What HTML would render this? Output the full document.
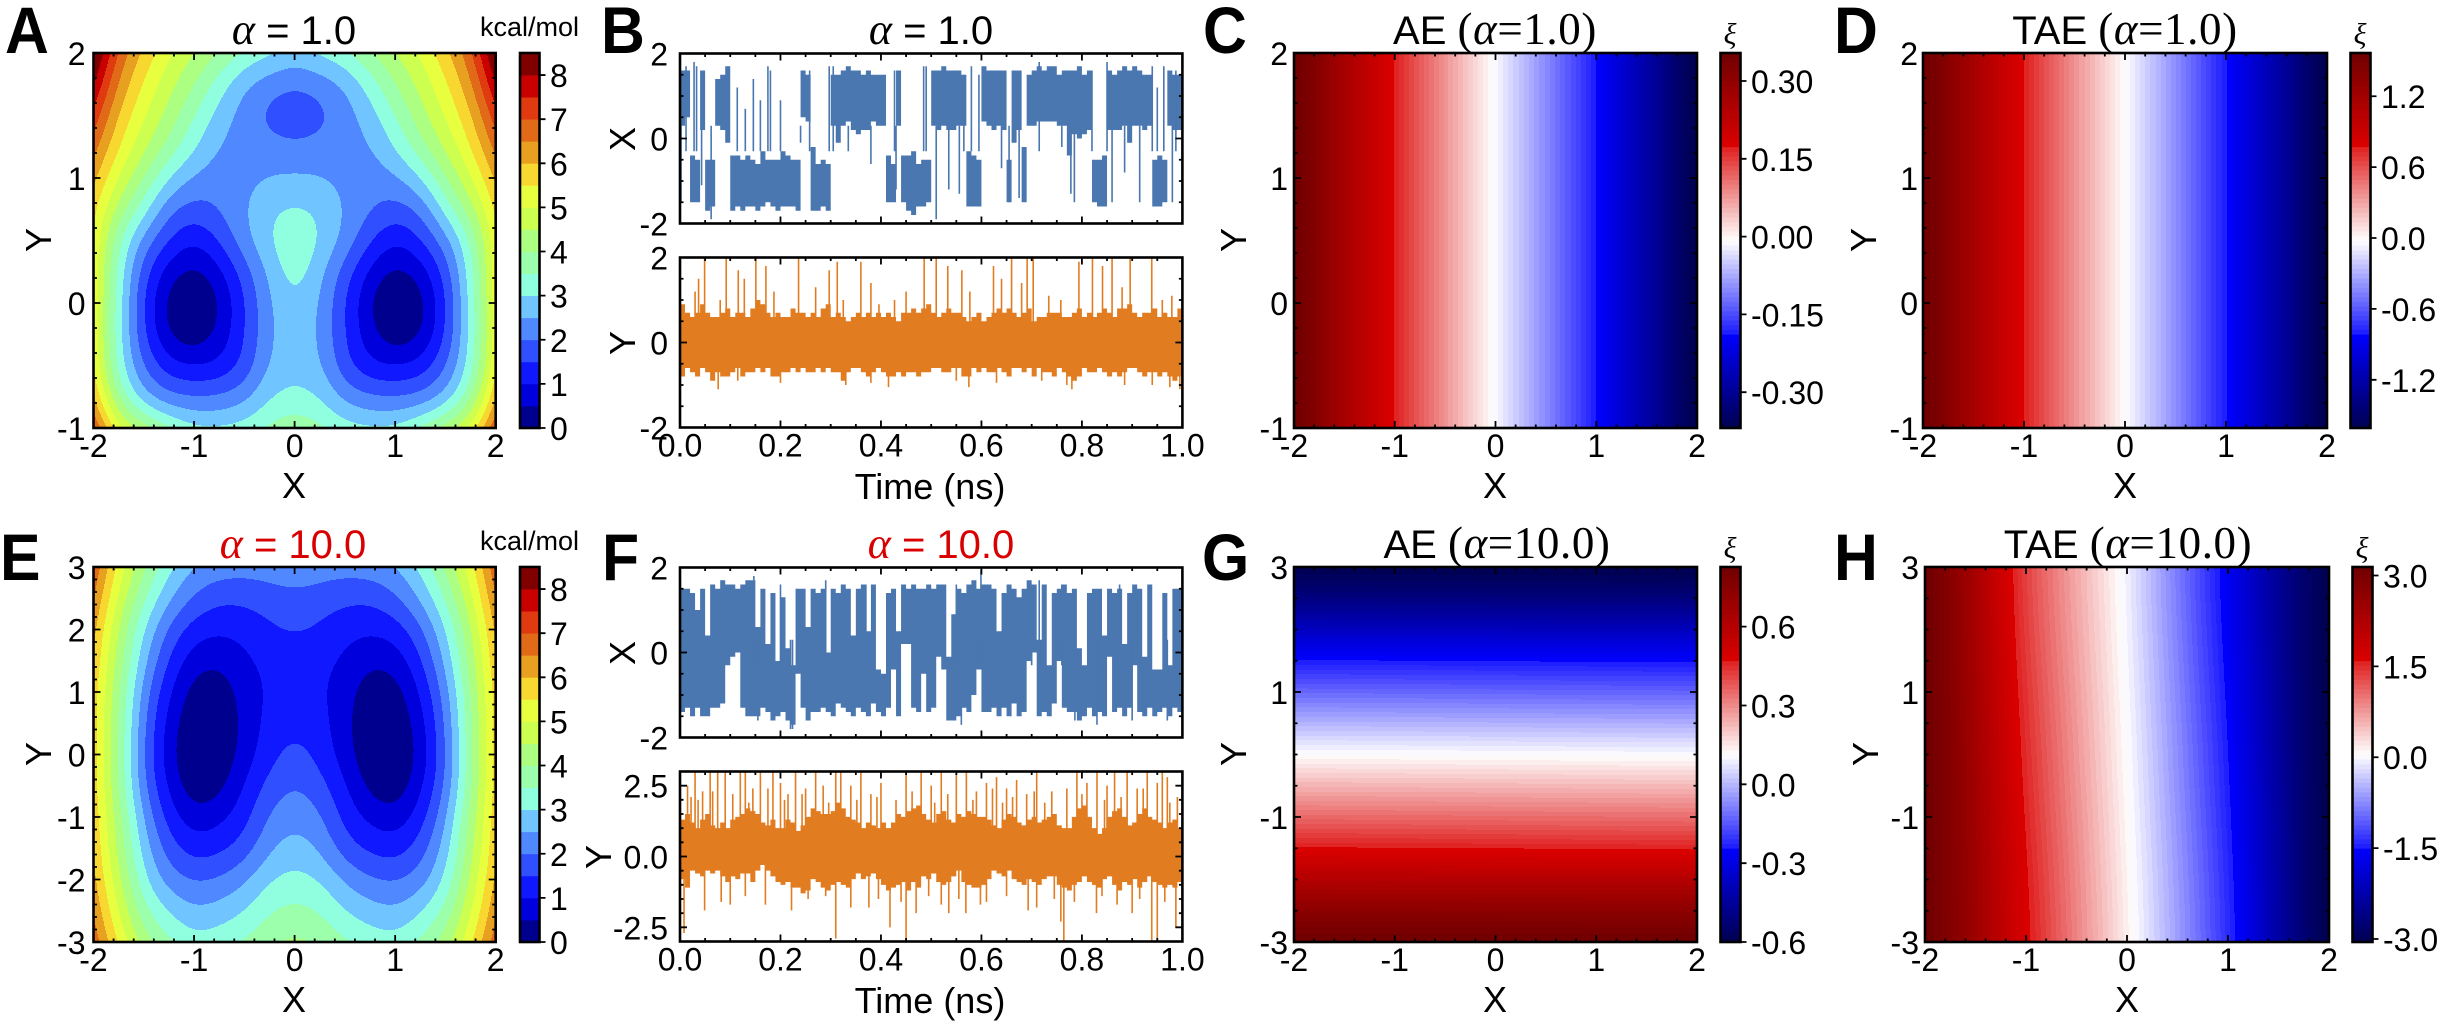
<!DOCTYPE html>
<html lang="en">
<head>
<meta charset="utf-8">
<title>Potential energy surfaces and learned coordinates</title>
<style>
html,body{margin:0;padding:0;background:#fff}
svg{display:block}
text{font-family:"Liberation Sans",sans-serif;fill:#000}
.serif{font-family:"Liberation Serif",serif;font-size:45px;letter-spacing:.6px}
.it{font-family:"Liberation Serif",serif;font-style:italic}
.letter{font-size:66px;font-weight:bold}
.title{font-size:40px}
.axis{font-size:36px}
</style>
</head>
<body>
<svg id="fig" xmlns="http://www.w3.org/2000/svg" width="2443" height="1028" viewBox="0 0 2443 1028">
<rect width="2443" height="1028" fill="#fff"/>
<g id="marks"></g>
<g>
<text class="letter" transform="translate(5 53) scale(.92 1)">A</text>
<text class="letter" transform="translate(601 53) scale(.92 1)">B</text>
<text class="letter" transform="translate(1203 53) scale(.92 1)">C</text>
<text class="letter" transform="translate(1834 53) scale(.92 1)">D</text>
<text class="letter" transform="translate(0 580) scale(.92 1)">E</text>
<text class="letter" transform="translate(602 580) scale(.92 1)">F</text>
<text class="letter" transform="translate(1202 580) scale(.92 1)">G</text>
<text class="letter" transform="translate(1834 580) scale(.92 1)">H</text>
</g>
<g>
<text class="title" x="294" y="44" text-anchor="middle"><tspan class="it" font-size="44">α</tspan> = 1.0</text>
<text class="title" x="931" y="44" text-anchor="middle"><tspan class="it" font-size="44">α</tspan> = 1.0</text>
<text class="title" x="1495" y="44" text-anchor="middle">AE <tspan class="serif">(<tspan class="it">α</tspan>=1.0)</tspan></text>
<text class="title" x="2125" y="44" text-anchor="middle">TAE <tspan class="serif">(<tspan class="it">α</tspan>=1.0)</tspan></text>
<text class="title" x="293" y="558" text-anchor="middle" style="fill:#d80000"><tspan class="it" font-size="44" style="fill:#d80000">α</tspan> = 10.0</text>
<text class="title" x="941" y="558" text-anchor="middle" style="fill:#d80000"><tspan class="it" font-size="44" style="fill:#d80000">α</tspan> = 10.0</text>
<text class="title" x="1497" y="558" text-anchor="middle">AE <tspan class="serif">(<tspan class="it">α</tspan>=10.0)</tspan></text>
<text class="title" x="2128" y="558" text-anchor="middle">TAE <tspan class="serif">(<tspan class="it">α</tspan>=10.0)</tspan></text>
</g>
<g>
<text x="529.5" y="36" font-size="27" text-anchor="middle">kcal/mol</text>
<text x="529.5" y="550" font-size="27" text-anchor="middle">kcal/mol</text>
<text class="it" x="1730" y="44" font-size="30" text-anchor="middle">ξ</text>
<text class="it" x="2360" y="44" font-size="30" text-anchor="middle">ξ</text>
<text class="it" x="1730" y="558" font-size="30" text-anchor="middle">ξ</text>
<text class="it" x="2362" y="558" font-size="30" text-anchor="middle">ξ</text>
</g>
<g>
<text class="axis" x="294" y="498" text-anchor="middle">X</text>
<text class="axis" x="1495" y="498" text-anchor="middle">X</text>
<text class="axis" x="2125" y="498" text-anchor="middle">X</text>
<text class="axis" x="294" y="1012" text-anchor="middle">X</text>
<text class="axis" x="1495" y="1012" text-anchor="middle">X</text>
<text class="axis" x="2127" y="1012" text-anchor="middle">X</text>
<text class="axis" x="930" y="499" text-anchor="middle">Time (ns)</text>
<text class="axis" x="930" y="1013" text-anchor="middle">Time (ns)</text>
<text class="axis" text-anchor="middle" transform="translate(51 240) rotate(-90)">Y</text>
<text class="axis" text-anchor="middle" transform="translate(1246 240) rotate(-90)">Y</text>
<text class="axis" text-anchor="middle" transform="translate(1876 240) rotate(-90)">Y</text>
<text class="axis" text-anchor="middle" transform="translate(51 754) rotate(-90)">Y</text>
<text class="axis" text-anchor="middle" transform="translate(1246 754) rotate(-90)">Y</text>
<text class="axis" text-anchor="middle" transform="translate(1878 754) rotate(-90)">Y</text>
<text class="axis" text-anchor="middle" transform="translate(635 139) rotate(-90)">X</text>
<text class="axis" text-anchor="middle" transform="translate(635 343) rotate(-90)">Y</text>
<text class="axis" text-anchor="middle" transform="translate(635 653) rotate(-90)">X</text>
<text class="axis" text-anchor="middle" transform="translate(611 857) rotate(-90)">Y</text>
</g>
</svg>
<script>
/* ---------- chart data ---------- */
var energyBandColors = ['#00008f','#0000dc','#1018ff','#3050ff','#5088ff','#70c4ff','#90ffe0','#9cffac','#acff80','#ccff50','#e8ff40','#f8d830','#e8a020','#e06a18','#e03a10','#c80000','#800000'];
var energyBandStep = [0.5];
var energyTickValues = [0,1,2,3,4,5,6,7,8];
var energyTickLabels = ['0','1','2','3','4','5','6','7','8'];

/* half-grids: columns |X| = 0, 0.25 ... 2; rows from top of the plot to bottom */
var energyGridA = [
[2.75,3.05,3.4,3.95,4.5,5.05,5.85,6.8,8.7],
[2.05,2.2,2.5,3.25,4.0,4.65,5.4,6.35,8.0],
[1.45,1.8,2.25,2.75,3.5,4.3,5.05,5.9,7.3],
[2.15,2.2,2.25,2.45,3.05,3.85,4.6,5.5,6.7],
[2.55,2.52,2.35,2.2,2.4,2.95,4.0,4.95,6.1],
[3.1,2.95,2.47,2.05,1.75,2.05,3.2,4.3,5.6],
[3.55,3.0,2.37,1.55,.95,1.45,2.25,3.5,5.4],
[3.35,2.65,1.75,.82,.3,.65,1.65,3.25,5.3],
[3.0,2.5,1.47,.45,-.25,.22,1.4,3.15,5.3],
[2.9,2.45,1.5,.6,.08,.35,1.5,3.1,5.3],
[2.9,2.6,1.6,1.05,.93,1.15,1.9,3.15,5.4],
[3.1,3.0,2.3,2.05,2.0,2.05,2.55,3.75,5.9],
[3.9,3.6,3.2,3.05,3.05,3.55,4.2,5.0,7.0]];
var energyGridE = [
[2.35,2.25,2.2,2.25,2.45,3.1,4.05,5.25,6.9],
[1.85,1.75,1.6,1.58,1.9,2.55,3.55,4.85,6.5],
[1.6,1.42,1.15,1.05,1.2,1.85,2.95,4.45,6.1],
[1.15,1.15,.9,.58,.65,1.4,2.6,4.25,5.9],
[1.1,1.1,.75,.12,.22,1.0,2.2,4.05,5.7],
[1.4,1.2,.66,.0,.0,.75,2.0,3.95,5.7],
[1.7,1.35,.72,.05,-.08,.6,1.9,3.9,5.7],
[2.05,1.7,1.05,.28,.05,.85,2.0,3.95,5.7],
[2.4,2.1,1.3,.85,.65,1.2,2.4,4.2,5.8],
[2.75,2.45,1.7,1.35,1.2,1.7,2.7,4.35,5.9],
[3.2,3.0,2.4,2.05,1.93,2.2,3.05,4.6,6.1],
[3.65,3.5,3.0,2.7,2.55,2.95,3.6,4.95,6.4],
[4.15,3.9,3.55,3.3,3.15,3.55,4.2,5.4,6.8]];

/* AE / TAE fields: rows top to bottom, columns left to right */
var aeGridC = [[0.354,0.263,0.172,0.08,-0.012,-0.10,-0.188,-0.28,-0.369]];
var taeGridD = [[1.566,1.17,0.77,0.375,-0.02,-0.415,-0.81,-1.21,-1.608]];
var aeGridG = [[-0.596,-0.604],[-0.241,-0.249],[0.114,0.106],[0.474,0.466],[0.827,0.827]];
var taeGridH = [[3.14,1.37,-0.06,-1.63,-3.05],[3.14,1.52,0.045,-1.5,-3.05],[3.14,1.66,0.15,-1.385,-3.05]];
var cbarRangeC = [-0.369,0.354];
var cbarRangeD = [-1.608,1.566];
var cbarRangeG = [-0.6,0.827];
var cbarRangeH = [-3.05,3.14];
var cbarTicksC = [0.30,0.15,0,-0.15,-0.30];
var cbarLabelsC = ['0.30','0.15','0.00','-0.15','-0.30'];
var cbarTicksD = [1.2,0.6,0,-0.6,-1.2];
var cbarLabelsD = ['1.2','0.6','0.0','-0.6','-1.2'];
var cbarTicksG = [0.6,0.3,0,-0.3,-0.6];
var cbarLabelsG = ['0.6','0.3','0.0','-0.3','-0.6'];
var cbarTicksH = [3,1.5,0,-1.5,-3];
var cbarLabelsH = ['3.0','1.5','0.0','-1.5','-3.0'];

/* trajectories: per-0.01 ns envelopes plus single excursions */
var traceBXHigh = [1.6,1.6,-.4,-.5,1.6,-.5,-.5,1.4,1.5,1.7,-.4,-.4,-.5,-.4,-.5,-.6,-.3,-.5,-.5,-.5,-.3,-.4,-.5,-.5,1.6,1.5,-.2,-.6,-.5,-.6,1.5,1.5,1.6,1.7,1.6,1.6,1.5,1.6,1.5,1.5,1.5,-.4,-.6,1.6,-.4,-.4,-.3,-.6,-.5,-.5,1.6,1.6,1.7,1.6,1.6,1.6,1.5,-.3,-.4,-.5,1.7,1.6,1.6,1.6,1.6,-.5,1.6,1.6,-.2,1.5,1.6,1.7,1.6,1.7,1.7,1.5,1.6,1.6,1.6,1.7,1.5,1.6,-.5,-.5,-.4,1.6,1.5,1.6,1.7,1.6,1.7,1.6,1.5,1.5,-.5,-.4,-.5,1.6,1.5,1.5];
var traceBXLow = [.3,.5,-1.5,-1.5,.2,-1.7,-1.6,.3,.2,-.1,-1.7,-1.6,-1.7,-1.6,-1.6,-1.7,-1.6,-1.5,-1.6,-1.7,-1.6,-1.6,-1.6,-1.7,.5,.4,-1.7,-1.7,-1.6,-1.7,.3,-.1,.3,.4,.2,.1,.2,.2,.4,.3,.3,-1.5,-1.5,.3,-1.5,-1.7,-1.8,-1.6,-1.6,-1.5,.3,.2,.3,.2,.2,.3,.3,-1.6,-1.6,-1.6,.4,.3,.2,.3,.2,-1.5,-.1,.2,-1.5,.3,.3,.4,.4,.4,.4,.3,.3,-.4,.1,.0,.1,.2,-1.5,-1.6,-1.6,.2,.2,.2,.3,-.1,.3,.3,.2,.3,-1.6,-1.6,-1.5,.3,.2,.2];
var spikeBXTimes = [.002,.012,.028,.033,.043,.062,.114,.13,.146,.16,.175,.18,.2,.24,.258,.297,.305,.335,.38,.427,.43,.49,.485,.51,.535,.556,.565,.58,.595,.64,.655,.675,.715,.76,.778,.785,.82,.85,.86,.885,.915,.94,.95,.963,.98,.987];
var spikeBXEnds = [-1.5,1.7,1.8,1.7,-1.1,-1.9,1.2,.7,1.4,.9,1.7,1.6,.9,-.1,1.6,1.7,1.7,-.3,-.6,1.6,-1.2,1.7,1.7,-1.9,-1.2,-1.3,1.5,1.7,1.5,-.7,-1.5,-1.4,1.8,-.2,-1.3,-1.5,1.6,1.8,-1.5,-.8,-1.5,1.7,1.2,1.7,-1.5,1.6];
var traceBYHigh = [.9,.7,.6,.7,.9,.7,.6,.6,.7,.8,.6,.7,.7,.6,.8,1.0,.9,.7,.6,.7,.6,.6,.8,.7,.7,.6,.7,.6,.8,.9,.6,.7,.6,.5,.6,.7,.6,.7,.6,.7,.6,.7,.6,.5,.7,.7,.8,.7,.8,.9,.7,.6,.7,.8,.7,.7,.6,.5,.6,.7,.5,.6,.7,.8,.7,.8,.7,.6,.7,.8,.5,.6,.6,.7,.7,.7,.6,.6,.7,.8,.6,.7,.6,.7,.8,.7,.6,.8,.8,.9,.7,.6,.7,.7,.8,.6,.7,.6,.6,.8];
var traceBYLow = [-.8,-.6,-.7,-.8,-.6,-.7,-.9,-.7,-.8,-.8,-.7,-.6,-.8,-.7,-.7,-.6,-.7,-.6,-.8,-.8,-.7,-.7,-.6,-.7,-.6,-.7,-.7,-.6,-.7,-.6,-.7,-.7,-.9,-.7,-.6,-.6,-.7,-.8,-.7,-.6,-.7,-.8,-.8,-.7,-.8,-.7,-.7,-.8,-.7,-.7,-.6,-.6,-.7,-.7,-.6,-.6,-.8,-.8,-.6,-.7,-.6,-.7,-.7,-.6,-.7,-.8,-.6,-.6,-.7,-.6,-.8,-.6,-.7,-.7,-.8,-.6,-.7,-.8,-.9,-.8,-.6,-.7,-.7,-.6,-.7,-.8,-.7,-.8,-.7,-.6,-.6,-.7,-.8,-.7,-.7,-.8,-.7,-.8,-.9,-.8];
var spikeBYTimes = [.037,.049,.03,.092,.08,.116,.128,.151,.171,.187,.236,.27,.297,.313,.325,.36,.38,.396,.427,.45,.486,.51,.533,.561,.577,.624,.64,.66,.68,.691,.703,.734,.758,.794,.821,.841,.86,.88,.896,.939,.96,.979,.076,.115,.2,.33,.38,.415,.55,.575,.63,.72,.77,.78,.885,.94,.975,.995];
var spikeBYEnds = [1.5,2,1.2,2,1.0,1.7,1.5,2,1.8,1.2,2,1.3,1.7,1.9,1.0,1.9,1.4,.9,1.0,1.2,2,2,1.8,1.7,1.2,1.8,1.5,2,1.4,2,2,1.1,1.0,1.9,2,1.8,2,1.3,2,2,1.0,1.1,-1.1,-.9,-.95,-1.0,-.95,-1.05,-.9,-1.05,-.95,-.9,-1.0,-1.1,-1.0,-1.0,-1.05,-1.1];
var traceFXHigh = [1.5,1.5,1.4,1.0,1.5,.4,1.6,1.5,1.7,1.6,1.6,1.5,1.6,1.7,1.7,.6,1.5,.2,1.4,-.2,1.3,.1,-.3,1.5,1.5,.6,1.5,1.4,1.5,.0,1.5,1.4,1.6,1.5,.4,1.5,1.6,.5,1.6,-.4,-.5,1.4,1.5,.5,1.6,1.5,1.6,1.5,1.5,1.6,1.5,1.6,1.6,-.1,.9,1.5,1.4,1.6,1.7,1.5,1.6,1.6,1.5,.5,1.4,1.6,1.5,1.3,1.5,1.7,1.6,.3,1.6,-.3,1.4,1.5,1.6,1.4,1.5,.1,-.3,1.4,1.5,1.5,.4,1.5,1.4,1.5,.2,1.4,1.6,1.5,-.1,1.6,-.4,-.4,1.4,-.3,1.5,1.5];
var traceFXLow = [-1.4,-1.3,-1.5,-1.3,-1.5,-1.5,-1.3,-1.3,-1.2,-.3,-.1,.0,-1.3,-1.5,-1.5,-1.5,-1.3,-1.4,-1.6,-1.5,-1.4,-1.6,-1.7,-.5,-1.3,-1.6,-1.4,-1.4,-1.3,-1.4,-1.5,-1.2,-1.3,-1.4,-1.5,-1.3,-1.4,-1.5,-1.2,-1.4,-1.5,-1.3,-.4,-1.5,.2,.2,-1.3,-1.4,-.5,-1.4,-1.3,-.1,-.4,-1.6,-1.6,-1.5,-1.3,-1.4,-1.0,-.4,-1.4,-1.4,-1.3,-1.5,-1.3,-1.5,-1.2,-1.5,-1.4,-.2,.0,-1.5,-1.4,-1.5,-1.2,-.2,-1.3,-1.4,-1.4,-1.6,-1.5,-1.3,-1.5,-1.4,-1.5,-.1,-1.4,-1.3,-1.5,-1.3,-.3,-1.4,-1.5,-1.3,-1.5,-1.4,-1.3,-1.5,-1.3,-1.4];
var spikeFXTimes = [.083,.147,.2,.224,.29,.37,.55,.599,.7,.715,.76,.786,.83,.875,.9,.97,.56,.22,.155];
var spikeFXEnds = [1.7,1.8,1.6,-1.8,1.7,1.6,1.6,1.95,1.6,1.7,1.6,-1.6,-1.7,1.6,-1.6,-1.6,-1.7,-1.8,-1.6];
var traceFYHigh = [1.3,1.5,1.2,1.0,1.3,1.5,1.1,1.0,1.2,1.0,1.3,1.4,1.5,1.7,1.6,1.5,1.2,1.1,1.3,1.0,1.0,1.3,1.2,.9,1.1,1.4,1.7,1.6,1.5,1.5,1.6,1.9,1.7,1.4,1.3,1.2,1.0,1.2,1.1,1.0,1.2,1.0,1.2,1.5,1.4,1.6,1.7,1.8,1.5,1.3,1.2,1.5,1.6,1.3,1.2,1.5,1.4,1.6,1.5,1.4,1.4,1.3,1.1,1.0,1.3,1.5,1.4,1.2,1.1,1.3,1.4,1.2,1.3,1.4,1.5,1.1,1.0,1.0,1.4,1.7,1.8,1.4,1.0,.8,1.0,1.4,1.6,1.7,1.4,1.1,1.2,1.5,1.7,1.4,1.3,1.2,1.0,1.2,1.3,1.0];
var traceFYLow = [-.8,-1.1,-.5,-.6,-.7,-.5,-.6,-.5,-.7,-.9,-.7,-.8,-.6,-.6,-.9,-.5,-.3,-.5,-.7,-.9,-1.0,-.9,-1.1,-1.1,-1.3,-1.2,-.8,-.9,-1.1,-1.2,-1.0,-.9,-1.0,-1.1,-.8,-.6,-.8,-.7,-.6,-.8,-1.0,-1.2,-1.1,-1.0,-.9,-1.2,-.9,-1.1,-.7,-.8,-.6,-.9,-1.0,-.9,-.7,-.5,-.9,-1.0,-1.1,-1.1,-1.0,-.8,-.5,-.6,-.7,-.5,-.8,-.9,-1.0,-.8,-.9,-1.0,-.8,-.7,-.7,-1.0,-1.1,-1.2,-1.0,-.9,-.7,-.9,-1.0,-1.1,-.8,-.7,-1.0,-1.2,-.9,-1.0,-.8,-1.1,-.9,-.7,-.9,-1.0,-1.1,-1.0,-1.1,-.9];
var spikeFYTimes = [.008,.049,.1,.222,.31,.376,.418,.45,.47,.535,.569,.598,.693,.764,.758,.829,.9,.939,.95,.987,.03,.06,.075,.09,.12,.13,.16,.185,.2,.23,.27,.31,.32,.36,.4,.45,.48,.52,.55,.57,.63,.67,.71,.79,.81,.83,.865,.89,.93,.96,.97,.015,.045,.105,.145,.215,.25,.34,.38,.43,.5,.59,.61,.65,.69,.74,.77,.85,.91,.95,.99,.022,.065,.137,.175,.208,.243,.285,.296,.352,.392,.462,.507,.533,.583,.622,.642,.662,.705,.726,.8,.845,.878,.922,.975,.036,.082,.13,.17,.255,.29,.34,.395,.44,.495,.52,.555,.61,.65,.71,.745,.785,.84,.87,.915,.965];
var spikeFYEnds = [-2.7,-1.9,-1.7,-1.9,-2.9,-1.8,-2.5,-3,-2.0,-2.0,-2.0,-1.7,-1.9,-3,-2.3,-2.0,-2.0,-3,-3,-2.5,3,3,3,3,3,3,3,3,2.6,3,3,3,3,3,2.6,3,3,3,3,3,2.8,2.7,3,3,2.6,3,3,3,3,3,2.8,2.5,2.3,2.2,2.4,2.2,2.4,2.5,2.2,2.0,2.5,2.3,2.6,2.4,2.2,2.3,2.4,2.5,2.4,2.6,2.1,2.1,2.3,1.9,2.4,2.0,2.2,2.5,1.9,2.0,2.1,2.3,1.9,2.2,2.0,2.4,1.9,2.1,2.3,1.9,2.2,2.0,2.1,2.4,1.9,2.0,-1.6,-1.4,-1.7,-1.5,-1.4,-1.8,-1.5,-1.6,-1.4,-1.7,-1.5,-1.6,-1.4,-1.8,-1.5,-1.6,-1.4,-1.7,-1.5,-1.6,-1.4];

/* tick values and labels */
var xTickValues = [-2,-1,0,1,2];
var xTickLabels = ['-2','-1','0','1','2'];
var yTicksTop = [2,1,0,-1];
var yLabelsTop = ['2','1','0','-1'];
var yTicksE = [3,2,1,0,-1,-2,-3];
var yLabelsE = ['3','2','1','0','-1','-2','-3'];
var yTicksG = [3,1,-1,-3];
var yLabelsG = ['3','1','-1','-3'];
var timeTickValues = [0,0.2,0.4,0.6,0.8,1];
var timeTickLabels = ['0.0','0.2','0.4','0.6','0.8','1.0'];
var traceTicksTwo = [2,0,-2];
var traceLabelsTwo = ['2','0','-2'];
var traceTicksF = [2.5,0,-2.5];
var traceLabelsF = ['2.5','0.0','-2.5'];

/* ---------- drawing ---------- */
var NS = 'http://www.w3.org/2000/svg';
var root = document.getElementById('marks');
function make(tag, attrs, parent) {
  var n = document.createElementNS(NS, tag);
  for (var k in attrs) n.setAttribute(k, attrs[k]);
  (parent || root).appendChild(n);
  return n;
}
function linear(d0, d1, r0, r1) { return function (v) { return r0 + (v - d0) / (d1 - d0) * (r1 - r0); }; }
function mirrorGrid(g) {
  return g.map(function (r) { return r.slice(1).reverse().concat(r); });
}
function cr(a, b, c, d, t) {
  return b + 0.5 * t * (c - a + t * (2 * a - 5 * b + 4 * c - d + t * (3 * (b - c) + d - a)));
}
function bs(a, b, c, d, t) {
  var s = 1 - t;
  return (s * s * s * a + (3 * t * t * t - 6 * t * t + 4) * b + (-3 * t * t * t + 3 * t * t + 3 * t + 1) * c + t * t * t * d) / 6;
}
function locate(g, u, v) {
  var nr = g.length, nc = g[0].length;
  var fu = u * (nc - 1), fv = v * (nr - 1);
  var iu = Math.min(Math.floor(fu), Math.max(nc - 2, 0)), iv = Math.min(Math.floor(fv), Math.max(nr - 2, 0));
  return { nr: nr, nc: nc, iu: iu, iv: iv, tu: fu - iu, tv: fv - iv };
}
function sampleRound(g, u, v) {
  var L = locate(g, u, v);
  function cell(r, c) {
    var R = g[r];
    if (c < 0) return 2 * R[0] - R[1];
    if (c >= L.nc) return 2 * R[L.nc - 1] - R[L.nc - 2];
    return R[c];
  }
  function row(r) {
    var val;
    if (r < 0) val = function (c) { return 2 * cell(0, c) - cell(1, c); };
    else if (r >= L.nr) val = function (c) { return 2 * cell(L.nr - 1, c) - cell(L.nr - 2, c); };
    else val = function (c) { return cell(r, c); };
    return bs(val(L.iu - 1), val(L.iu), val(L.iu + 1), val(L.iu + 2), L.tu);
  }
  return bs(row(L.iv - 1), row(L.iv), row(L.iv + 1), row(L.iv + 2), L.tv);
}
function sampleSharp(g, u, v) {
  var L = locate(g, u, v);
  function row(r) {
    var R = g[Math.max(0, Math.min(L.nr - 1, r))];
    function at(i) { return R[Math.max(0, Math.min(L.nc - 1, i))]; }
    return L.nc < 2 ? R[0] : cr(at(L.iu - 1), at(L.iu), at(L.iu + 1), at(L.iu + 2), L.tu);
  }
  return L.nr < 2 ? row(0) : cr(row(L.iv - 1), row(L.iv), row(L.iv + 1), row(L.iv + 2), L.tv);
}
function drawField(g, box, sampler, indexOf, colorOf, n) {
  var parts = [];
  var i;
  for (i = 0; i < n; i++) parts.push([]);
  var x0 = Math.round(box.x0), x1 = Math.round(box.x1), y0 = Math.round(box.y0), y1 = Math.round(box.y1);
  for (var py = y0; py < y1; py++) {
    var start = x0, cur = -1;
    var v = (py + 0.5 - y0) / (y1 - y0);
    for (var px = x0; px <= x1; px++) {
      var id = px < x1 ? indexOf(sampler(g, (px + 0.5 - x0) / (x1 - x0), v)) : -2;
      if (id !== cur) {
        if (cur >= 0) parts[cur].push('M' + start + ' ' + py + 'h' + (px - start) + 'v1h-' + (px - start) + 'z');
        start = px; cur = id;
      }
    }
  }
  for (i = 0; i < n; i++) {
    if (!parts[i].length) continue;
    var band = make('path', { d: parts[i].join(''), fill: colorOf(i), 'shape-rendering': 'crispEdges' });
    
    
  }
}
function hexToRgb(h) { return [parseInt(h.substr(1, 2), 16), parseInt(h.substr(3, 2), 16), parseInt(h.substr(5, 2), 16)]; }
var divStops = [[-1, '#000050'], [-0.5, '#0000ff'], [-0.499, '#1a1aff'], [0, '#ffffff'], [0.499, '#e02020'], [0.5, '#dc0000'], [1, '#700000']];
function divColor(t) {
  for (var i = 1; i < divStops.length; i++) {
    if (t <= divStops[i][0]) {
      var a = divStops[i - 1], b = divStops[i], f = (t - a[0]) / (b[0] - a[0]);
      var ca = hexToRgb(a[1]), cb = hexToRgb(b[1]);
      return 'rgb(' + Math.round(ca[0] + (cb[0] - ca[0]) * f) + ',' + Math.round(ca[1] + (cb[1] - ca[1]) * f) + ',' + Math.round(ca[2] + (cb[2] - ca[2]) * f) + ')';
    }
  }
  return divStops[divStops.length - 1][1];
}
var HEAT_LEVELS = 80;
function drawFrame(box) {
  var frame = make('rect', { x: box.x0, y: box.y0, width: box.x1 - box.x0, height: box.y1 - box.y0, fill: 'none', stroke: '#000', 'stroke-width': 2.6 });
  
  
}
function drawAxes(box, spec) {
  var sx = linear(spec.xr[0], spec.xr[1], box.x0, box.x1), sy = linear(spec.yr[0], spec.yr[1], box.y1, box.y0);
  var d = '', v;
  function isMajor(list, x) { return list.some(function (m) { return Math.abs(m - x) < 1e-6; }); }
  for (v = spec.xr[0]; v <= spec.xr[1] + 1e-9; v += spec.xMinor) {
    var len = isMajor(spec.xTicks, v) ? 7 : 3.5;
    d += 'M' + sx(v) + ' ' + box.y1 + 'v-' + len + 'M' + sx(v) + ' ' + box.y0 + 'v' + len;
  }
  for (v = spec.yMinorStart; v <= spec.yMinorEnd + 1e-9; v += spec.yMinor) {
    var ly = isMajor(spec.yTicks, v) ? 7 : 3.5;
    d += 'M' + box.x0 + ' ' + sy(v) + 'h' + ly + 'M' + box.x1 + ' ' + sy(v) + 'h-' + ly;
  }
  var ticks = make('path', { d: d, stroke: '#000', 'stroke-width': 1.8, fill: 'none' });
  
  
  drawFrame(box);
  if (spec.xLabels) spec.xTicks.forEach(function (t, i) {
    var lab = make('text', { x: sx(t), y: box.y1 + 29, 'font-size': 32, 'text-anchor': 'middle' });
    lab.textContent = spec.xLabels[i];
    
    
  });
  spec.yTicks.forEach(function (t, i) {
    var lab = make('text', { x: box.x0 - spec.gap, y: sy(t) + 12, 'font-size': 32, 'text-anchor': 'end' });
    lab.textContent = spec.yLabels[i];
    
    
  });
}
function drawColorbarTicks(cb, range, ticks, labels) {
  var s = linear(range[0], range[1], cb.y1, cb.y0);
  var d = '';
  ticks.forEach(function (t) { d += 'M' + cb.x1 + ' ' + s(t) + 'h6'; });
  var marks = make('path', { d: d, stroke: '#000', 'stroke-width': 1.8, fill: 'none' });
  
  
  ticks.forEach(function (t, i) {
    var lab = make('text', { x: cb.x1 + 10.5, y: s(t) + 12, 'font-size': 32 });
    lab.textContent = labels[i];
    
    
  });
}
function drawEnergyPanel(grid, box, cb, spec) {
  var step = energyBandStep[0];
  drawField(mirrorGrid(grid), box, sampleRound, function (v) {
    return Math.max(0, Math.min(energyBandColors.length - 1, Math.floor(v / step)));
  }, function (i) { return energyBandColors[i]; }, energyBandColors.length);
  drawAxes(box, spec);
  var range = [0, energyBandColors.length * step];
  var s = linear(range[0], range[1], cb.y1, cb.y0);
  energyBandColors.forEach(function (c, i) {
    var cell = make('rect', { x: cb.x0, y: s((i + 1) * step), width: cb.x1 - cb.x0, height: s(i * step) - s((i + 1) * step) + 0.4, fill: c });
    
    
  });
  drawFrame(cb);
  drawColorbarTicks(cb, range, energyTickValues, energyTickLabels);
}
function drawHeatPanel(grid, box, cb, range, ticks, labels, spec) {
  var mid = (range[0] + range[1]) / 2, half = (range[1] - range[0]) / 2;
  function colorOfLevel(i) { return divColor((i + 0.5) / HEAT_LEVELS * 2 - 1); }
  drawField(grid, box, sampleSharp, function (v) {
    var t = (v - mid) / half;
    return Math.max(0, Math.min(HEAT_LEVELS - 1, Math.floor((t + 1) / 2 * HEAT_LEVELS)));
  }, colorOfLevel, HEAT_LEVELS);
  drawAxes(box, spec);
  var h = (cb.y1 - cb.y0) / HEAT_LEVELS;
  for (var i = 0; i < HEAT_LEVELS; i++) {
    var cell = make('rect', { x: cb.x0, y: cb.y1 - (i + 1) * h, width: cb.x1 - cb.x0, height: h + 0.4, fill: colorOfLevel(i) });
    
    
  }
  drawFrame(cb);
  drawColorbarTicks(cb, range, ticks, labels);
}
var clipCount = 0;
function drawTrace(box, high, low, spikeT, spikeE, color, spec) {
  var sx = linear(0, 1, box.x0, box.x1), sy = linear(spec.yr[0], spec.yr[1], box.y1, box.y0);
  var id = 'clip' + (clipCount++);
  var cp = make('clipPath', { id: id });
  make('rect', { x: box.x0, y: box.y0, width: box.x1 - box.x0, height: box.y1 - box.y0 }, cp);
  var g = make('g', { 'clip-path': 'url(#' + id + ')' });
  
  
  var d = '', n = high.length;
  high.forEach(function (h, i) {
    var a = sx(i / n), b = sx((i + 1) / n);
    d += 'M' + a + ' ' + sy(h) + 'H' + b + 'V' + sy(low[i]) + 'H' + a + 'Z';
  });
  var core = make('path', { d: d, fill: color }, g);
  
  
  var e = '';
  spikeT.forEach(function (t, i) {
    var base = spikeE[i] > spec.mid ? spec.mid - 0.3 : spec.mid + 0.3;
    e += 'M' + sx(t) + ' ' + sy(base) + 'V' + sy(spikeE[i]);
  });
  var spikes = make('path', { d: e, stroke: color, 'stroke-width': 1.6, fill: 'none' }, g);
  
  
  drawAxes(box, spec);
}

var R1 = { y0: 53, y1: 428 }, R2 = { y0: 567, y1: 942 };
function bx(x0, x1, r) { return { x0: x0, x1: x1, y0: r.y0, y1: r.y1 }; }
function topSpec(gap) { return { xr: [-2, 2], yr: [-1, 2], xTicks: xTickValues, xLabels: xTickLabels, xMinor: 0.2, yTicks: yTicksTop, yLabels: yLabelsTop, yMinor: 0.2, yMinorStart: -1, yMinorEnd: 2, gap: gap }; }
function eSpec(gap) { return { xr: [-2, 2], yr: [-3, 3], xTicks: xTickValues, xLabels: xTickLabels, xMinor: 0.2, yTicks: yTicksE, yLabels: yLabelsE, yMinor: 0.2, yMinorStart: -3, yMinorEnd: 3, gap: gap }; }
function gSpec(gap) { return { xr: [-2, 2], yr: [-3, 3], xTicks: xTickValues, xLabels: xTickLabels, xMinor: 0.2, yTicks: yTicksG, yLabels: yLabelsG, yMinor: 0.5, yMinorStart: -3, yMinorEnd: 3, gap: gap }; }

drawEnergyPanel(energyGridA, bx(93.5, 495.7, R1), bx(520, 539.5, R1), topSpec(8));
drawEnergyPanel(energyGridE, bx(93.5, 495.7, R2), bx(520, 539.5, R2), eSpec(8));
drawHeatPanel(aeGridC, bx(1294, 1697, R1), bx(1720.5, 1740.5, R1), cbarRangeC, cbarTicksC, cbarLabelsC, topSpec(6));
drawHeatPanel(taeGridD, bx(1923, 2327, R1), bx(2350.5, 2370.5, R1), cbarRangeD, cbarTicksD, cbarLabelsD, topSpec(5));
drawHeatPanel(aeGridG, bx(1294, 1697, R2), bx(1720.5, 1740.5, R2), cbarRangeG, cbarTicksG, cbarLabelsG, gSpec(6));
drawHeatPanel(taeGridH, bx(1925, 2329, R2), bx(2352.5, 2372.5, R2), cbarRangeH, cbarTicksH, cbarLabelsH, gSpec(6));

function traceSpec(yr, ticks, labels, withX, mid) {
  return { xr: [0, 1], yr: yr, xTicks: timeTickValues, xLabels: withX ? timeTickLabels : null, xMinor: 0.05, yTicks: ticks, yLabels: labels, yMinor: 0.5, yMinorStart: yr[0] === -3 ? -2.5 : yr[0], yMinorEnd: yr[1] === 3 ? 2.5 : yr[1], gap: 12, mid: mid };
}
var BLUE = '#4a77b0', ORANGE = '#e27c20';
drawTrace({ x0: 680, x1: 1182.4, y0: 53.5, y1: 223.5 }, traceBXHigh, traceBXLow, spikeBXTimes, spikeBXEnds, BLUE, traceSpec([-2, 2], traceTicksTwo, traceLabelsTwo, false, 0));
drawTrace({ x0: 680, x1: 1182.4, y0: 257.5, y1: 427.5 }, traceBYHigh, traceBYLow, spikeBYTimes, spikeBYEnds, ORANGE, traceSpec([-2, 2], traceTicksTwo, traceLabelsTwo, true, 0));
drawTrace({ x0: 680, x1: 1182.4, y0: 567.5, y1: 737.5 }, traceFXHigh, traceFXLow, spikeFXTimes, spikeFXEnds, BLUE, traceSpec([-2, 2], traceTicksTwo, traceLabelsTwo, false, 0));
drawTrace({ x0: 680, x1: 1182.4, y0: 771.5, y1: 941.5 }, traceFYHigh, traceFYLow, spikeFYTimes, spikeFYEnds, ORANGE, traceSpec([-3, 3], traceTicksF, traceLabelsF, true, 0.2));
</script>
</body>
</html>
